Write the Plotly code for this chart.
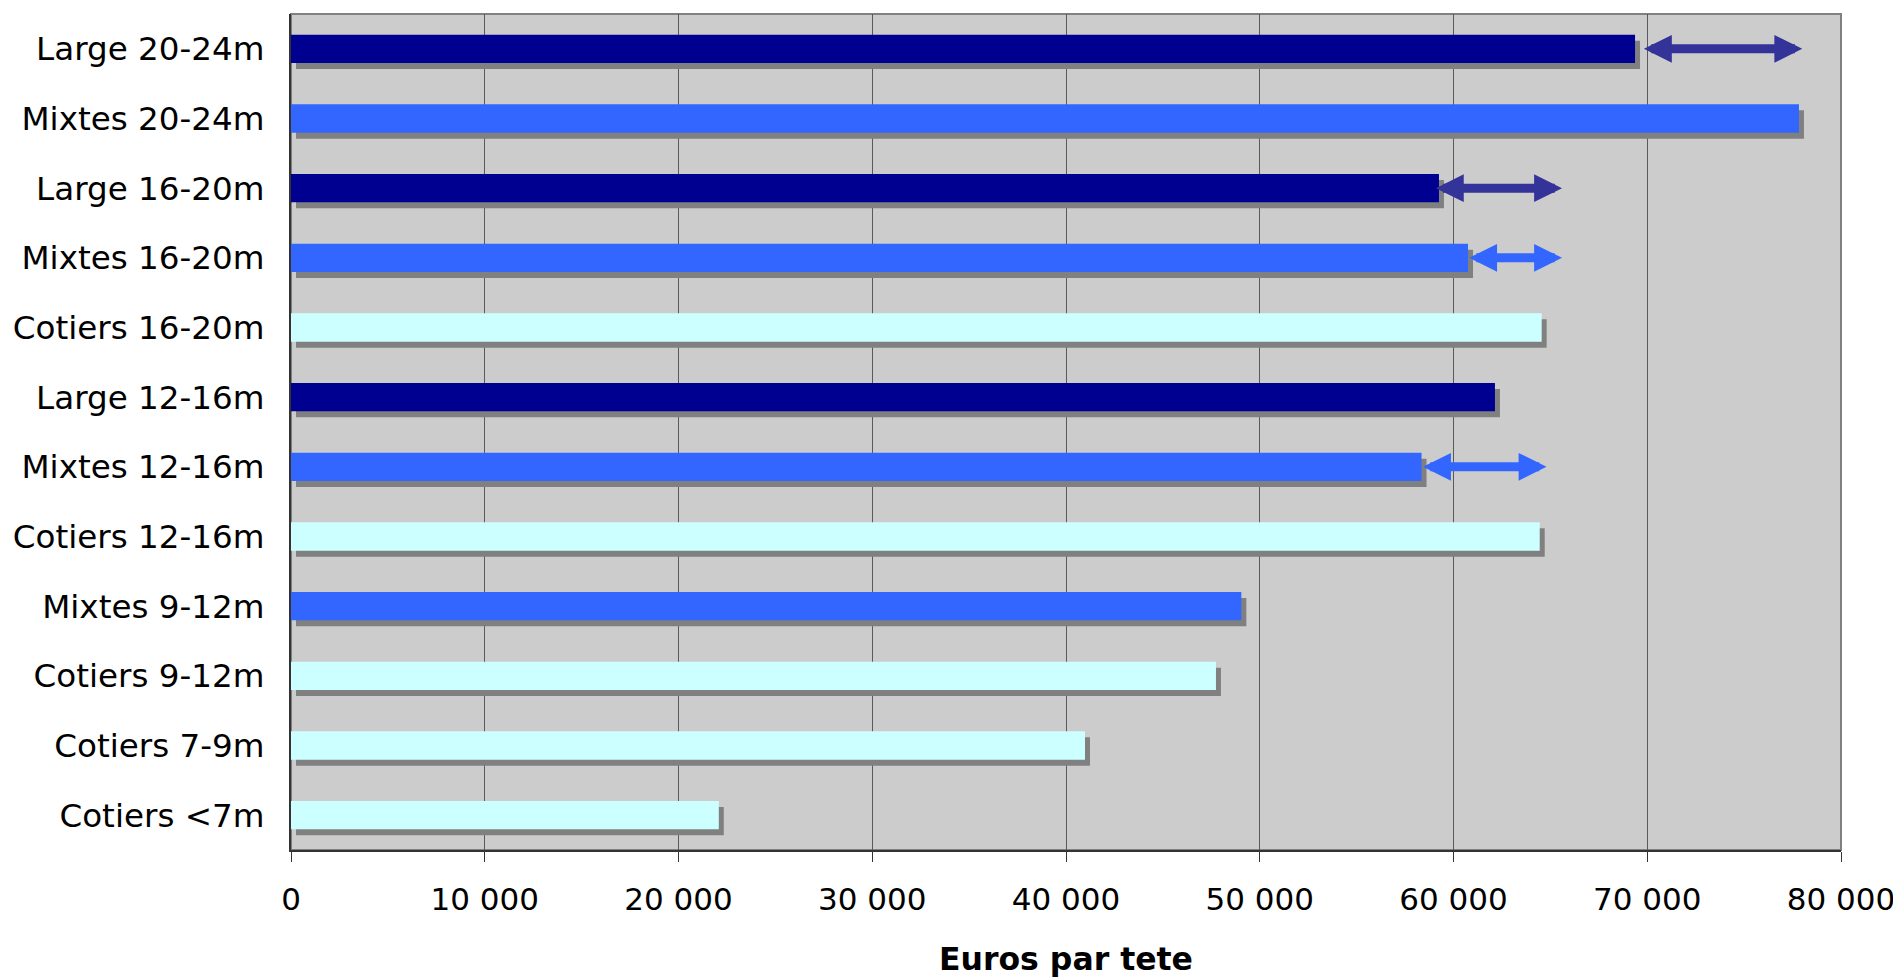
import plotly.graph_objects as go

categories = ["Large 20-24m", "Mixtes 20-24m", "Large 16-20m", "Mixtes 16-20m",
              "Cotiers 16-20m", "Large 12-16m", "Mixtes 12-16m", "Cotiers 12-16m",
              "Mixtes 9-12m", "Cotiers 9-12m", "Cotiers 7-9m", "Cotiers <7m"]
groups = ["Large", "Mixtes", "Large", "Mixtes", "Cotiers", "Large", "Mixtes",
          "Cotiers", "Mixtes", "Cotiers", "Cotiers", "Cotiers"]
values = [69370, 77830, 59250, 60750, 64550, 62140, 58350, 64450, 49050, 47740, 40980, 22080]

# double-headed range arrows
arrow_cats = ["Large 20-24m", "Large 16-20m", "Mixtes 16-20m", "Mixtes 12-16m"]
arrow_low = [69750, 59010, 60730, 58350]
arrow_high = [78000, 65600, 65600, 64800]

bar_colors = {"Large": "#000090", "Mixtes": "#3366FF", "Cotiers": "#CCFFFF"}
arrow_colors = {"Large": "#333399", "Mixtes": "#3366FF"}

BAR_W = 0.406
SHADOW_DX = 258      # data units (~5 px)
SHADOW_DY = 0.086    # category units (~6 px)

fig = go.Figure()
fig.add_trace(go.Bar(
    y=categories, x=values, base=SHADOW_DX, orientation="h",
    width=BAR_W, offset=-BAR_W / 2 + SHADOW_DY,
    marker=dict(color="#808080", line=dict(width=0)),
    hoverinfo="skip", showlegend=False))
fig.add_trace(go.Bar(
    y=categories, x=values, orientation="h",
    width=BAR_W, offset=-BAR_W / 2,
    marker=dict(color=[bar_colors[g] for g in groups], line=dict(width=0)),
    showlegend=False))

for cat, lo, hi in zip(arrow_cats, arrow_low, arrow_high):
    g = groups[categories.index(cat)]
    fig.add_annotation(
        x=hi, y=cat, ax=lo, ay=cat, xref="x", yref="y", axref="x", ayref="y",
        text="", showarrow=True, arrowhead=2, startarrowhead=2,
        arrowside="end+start", arrowwidth=9, arrowsize=0.62, startarrowsize=0.62,
        arrowcolor=arrow_colors[g], standoff=0, startstandoff=0)

# plot area border (top/right grey)
fig.add_shape(type="rect", xref="paper", yref="paper", x0=0, x1=1, y0=0, y1=1,
              line=dict(color="#808080", width=2), layer="below")

# page body has an 8px margin: figure is placed at (8, 8)
fig.update_layout(
    width=1893, height=969,
    margin=dict(l=283, r=60, t=6, b=127),
    paper_bgcolor="white", plot_bgcolor="#CCCCCC",
    barmode="overlay", separators=". ",
    font=dict(family="DejaVu Sans", color="black"),
    xaxis=dict(range=[0, 80000], dtick=10000, tickformat=",d", automargin=False,
               showgrid=True, gridcolor="#5a5a5a", gridwidth=1,
               zeroline=False, showline=True, linecolor="#333333", linewidth=2,
               ticks="outside", ticklen=10, tickcolor="#333333", tickwidth=1,
               tickfont=dict(size=31), ticklabelstandoff=11,
               title=dict(text="<b>Euros par tete</b>", font=dict(size=31.5), standoff=33)),
    yaxis=dict(range=[11.5, -0.5], type="category", showgrid=False, zeroline=False,
               automargin=False,
               showline=True, linecolor="#333333", linewidth=2, ticks="",
               tickfont=dict(size=32.6), ticklabelstandoff=18),
)

fig.write_html("out.html")
